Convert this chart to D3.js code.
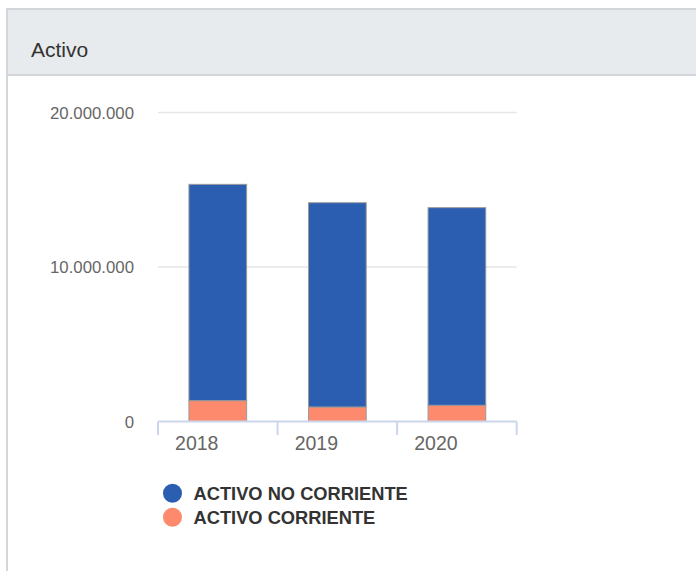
<!DOCTYPE html>
<html>
<head>
<meta charset="utf-8">
<script src="https://cdn.jsdelivr.net/npm/d3@7"></script>
<style>
  body { margin: 0; background: #fff; }
  svg { display: block; font-family: "Liberation Sans", Arial, Helvetica, sans-serif; }
</style>
</head>
<body>
<svg id="chart"></svg>
<script>
// data
const years = ["2018", "2019", "2020"];
const noCorriente = [14000000, 13220000, 12790000];
const corriente = [1350000, 940000, 1050000];
const yTicks = [0, 10000000, 20000000];
const seriesNames = ["ACTIVO NO CORRIENTE", "ACTIVO CORRIENTE"];
const seriesColors = ["#2b5db1", "#fe8a6e"];

const width = 696, height = 571;
const svg = d3.select("#chart").attr("width", width).attr("height", height);

// panel + header
svg.append("rect").attr("x", 7).attr("y", 9).attr("width", 692).attr("height", 66)
  .attr("fill", "#e8ebee").attr("stroke", "#d3d7db").attr("stroke-width", 2);
svg.append("line").attr("x1", 7).attr("x2", 7).attr("y1", 9).attr("y2", height)
  .attr("stroke", "#d3d7db").attr("stroke-width", 2);
svg.append("text").attr("x", 31).attr("y", 57).text("Activo")
  .attr("font-size", 21).attr("fill", "#333");

const plot = { left: 158, right: 516.7, top: 112.5, bottom: 421.5 };

const x = d3.scaleBand().domain(years).range([plot.left, plot.right]).paddingInner(0).paddingOuter(0);
const y = d3.scaleLinear().domain([0, 20000000]).range([plot.bottom, plot.top]);
const fmt = v => d3.format(",")(v).replace(/,/g, ".");

// grid
svg.append("g").selectAll("line").data(yTicks.filter(d => d > 0)).join("line")
  .attr("x1", plot.left).attr("x2", plot.right)
  .attr("y1", d => y(d)).attr("y2", d => y(d))
  .attr("stroke", "#e6e6e6").attr("stroke-width", 1.5);

svg.append("g").selectAll("text").data(yTicks).join("text")
  .attr("x", 134).attr("y", d => y(d) + 6)
  .attr("text-anchor", "end").attr("font-size", 16.8).attr("fill", "#666")
  .text(fmt);

// stacked bars
const rows = years.map((yr, i) => ({ year: yr, noCorriente: noCorriente[i], corriente: corriente[i] }));
const stack = d3.stack().keys(["corriente", "noCorriente"])(rows);
const colorOf = { noCorriente: seriesColors[0], corriente: seriesColors[1] };
const barW = 57.7;

svg.append("g").selectAll("g").data(stack).join("g")
  .attr("fill", d => colorOf[d.key])
  .selectAll("rect").data(d => d).join("rect")
  .attr("x", d => x(d.data.year) + x.bandwidth() / 2 - barW / 2)
  .attr("width", barW)
  .attr("y", d => y(d[1]))
  .attr("height", d => y(d[0]) - y(d[1]))
  .attr("stroke", "#9a9a9a").attr("stroke-width", 1);

// x axis
const xAxis = svg.append("g");
xAxis.append("line").attr("x1", plot.left).attr("x2", plot.right)
  .attr("y1", plot.bottom).attr("y2", plot.bottom)
  .attr("stroke", "#ccd6eb").attr("stroke-width", 2);
const tickPos = years.map(d => x(d)).concat([plot.right]);
xAxis.selectAll("line.tick").data(tickPos).join("line").attr("class", "tick")
  .attr("x1", d => d).attr("x2", d => d)
  .attr("y1", plot.bottom).attr("y2", 435)
  .attr("stroke", "#ccd6eb").attr("stroke-width", 2);
xAxis.selectAll("text").data(years).join("text")
  .attr("x", d => x(d) + x.bandwidth() / 2 - 21).attr("y", 450)
  .attr("text-anchor", "middle").attr("font-size", 19.5).attr("fill", "#666")
  .text(d => d);

// legend
const legend = svg.append("g").selectAll("g").data(seriesNames).join("g")
  .attr("transform", (d, i) => `translate(172.5,${493.3 + i * 24})`);
legend.append("circle").attr("r", 9.5).attr("fill", (d, i) => seriesColors[i]);
legend.append("text").attr("x", 21).attr("y", 6.5)
  .attr("font-size", 18.3).attr("font-weight", "bold").attr("fill", "#333")
  .text(d => d);
</script>
</body>
</html>
